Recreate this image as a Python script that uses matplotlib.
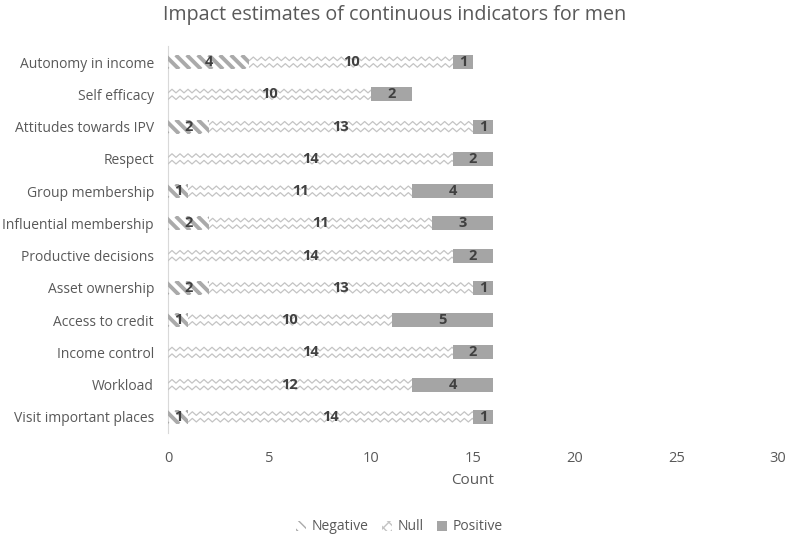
import numpy as np
import matplotlib
matplotlib.use('Agg')
import matplotlib.pyplot as plt
from matplotlib.patches import Patch
from matplotlib.lines import Line2D

plt.rcParams['font.family'] = ['Open Sans', 'DejaVu Sans']

# categories, top to bottom
categories = ['Autonomy in income', 'Self efficacy', 'Attitudes towards IPV', 'Respect',
              'Group membership', 'Influential membership', 'Productive decisions',
              'Asset ownership', 'Access to credit', 'Income control', 'Workload',
              'Visit important places']
negative = [4, 0, 2, 0, 1, 2, 0, 2, 1, 0, 0, 1]
null = [10, 10, 13, 14, 11, 11, 14, 13, 10, 14, 12, 14]
positive = [1, 2, 1, 2, 4, 3, 2, 1, 5, 2, 4, 1]

W, H = 787, 536
fig = plt.figure(figsize=(W / 100, H / 100), dpi=100)
ax_l, ax_r, ax_t, ax_b = 168, 778, 46, 433
ax = fig.add_axes([ax_l / W, 1 - ax_b / H, (ax_r - ax_l) / W, (ax_b - ax_t) / H])

n = len(categories)
y = np.arange(n)
bar_h = 0.44
xmax = 30
ax.set_xlim(0, xmax)
ax.set_ylim(n - 0.5, -0.5)

# pixels per data unit
px_x = (ax_r - ax_l) / xmax
px_y = (ax_b - ax_t) / n

tcol = '#595959'
lcol = '#404040'
stripe_col = '#aaaaaa'
zig_col = '#c4c4c4'
pos_col = '#a5a5a5'


def stripes(bar, left, width, yc):
    # diagonal stripes "\\" clipped to the bar
    spacing = 11.0 / px_x
    hh = bar_h / 2
    dx = (bar_h * px_y) / px_x
    x0 = left - dx
    while x0 < left + width + dx:
        ln = Line2D([x0, x0 + dx], [yc - hh, yc + hh], color=stripe_col,
                    lw=2.8, solid_capstyle='butt', zorder=3)
        ax.add_line(ln)
        ln.set_clip_path(bar)
        x0 += spacing


def zigzag(bar, left, width, yc):
    period = 8.0 / px_x
    amp = 1.8 / px_y
    xs = np.arange(left - period, left + width + period, period / 2)
    for off in (-3.3 / px_y, 3.3 / px_y):
        ys = yc + off + amp * np.where(np.arange(len(xs)) % 2 == 0, 1, -1)
        ln = Line2D(xs, ys, color=zig_col, lw=0.9, zorder=3)
        ax.add_line(ln)
        ln.set_clip_path(bar)


for i in range(n):
    left = 0
    if negative[i] > 0:
        b = ax.barh(y[i], negative[i], left=left, height=bar_h, color='white',
                    edgecolor='none', zorder=2)[0]
        stripes(b, left, negative[i], y[i])
        left += negative[i]
    b = ax.barh(y[i], null[i], left=left, height=bar_h, color='white',
                edgecolor='none', zorder=2)[0]
    zigzag(b, left, null[i], y[i])
    left += null[i]
    ax.barh(y[i], positive[i], left=left, height=bar_h, color=pos_col,
            edgecolor='none', zorder=2)

# value labels
for i in range(n):
    left = 0
    for v in (negative[i], null[i], positive[i]):
        if v > 0:
            ax.text(left + v / 2, y[i], str(v), ha='center', va='center',
                    fontsize=10.5, fontweight='bold', color=lcol, zorder=5)
        left += v

ax.set_yticks(y)
ax.set_yticklabels(categories)
ax.set_xticks(range(0, 31, 5))
ax.tick_params(axis='both', length=0, colors=tcol, labelsize=10)
ax.tick_params(axis='x', pad=13, labelsize=10.5)
ax.tick_params(axis='y', pad=10)
for s in ['top', 'right', 'bottom']:
    ax.spines[s].set_visible(False)
ax.spines['left'].set_color('#d9d9d9')

ax.set_xlabel('Count', fontsize=11, color=tcol, labelpad=5)
fig.text(0.5 + 1 / W, 1 - 15 / H, 'Impact estimates of continuous indicators for men',
         ha='center', va='center', fontsize=14.2, color=tcol)

handles = [Patch(facecolor='white', edgecolor=stripe_col, hatch='\\\\\\', lw=0),
           Patch(facecolor='white', edgecolor=zig_col, hatch='xxx', lw=0),
           Patch(facecolor=pos_col, edgecolor='none')]
leg = fig.legend(handles, ['Negative', 'Null', 'Positive'], loc='center',
                 bbox_to_anchor=(0.5 + 6 / W, 1 - 527 / H), ncol=3, frameon=False,
                 fontsize=10, handlelength=0.7, handleheight=0.7, columnspacing=1.0,
                 handletextpad=0.4)
for t in leg.get_texts():
    t.set_color(tcol)

fig.savefig('out.png', dpi=100)
